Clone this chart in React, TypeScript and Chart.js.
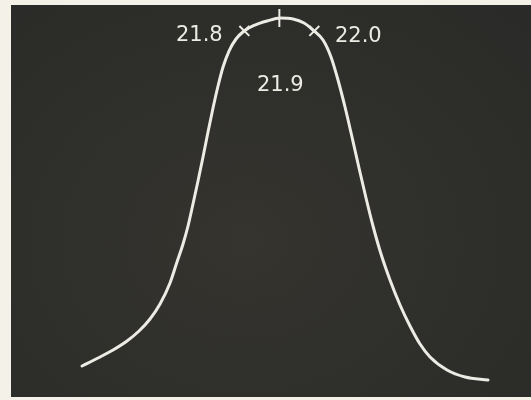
import React, { useEffect, useRef } from "react";
import { Chart, registerables } from "chart.js";

Chart.register(...registerables);

// Sweep frequency and relative response amplitude
const freq = [
  21.3362, 21.3819, 21.4248, 21.4648, 21.4991, 21.5305, 21.5591, 21.5876, 21.6076, 21.6248,
  21.6391, 21.6533, 21.6676, 21.6819, 21.6962, 21.7105, 21.7248, 21.7391, 21.7562, 21.7762,
  21.7991, 21.8305, 21.8648, 21.9019, 21.9391, 21.9705, 21.9962, 22.0248, 22.0476, 22.0676,
  22.0876, 22.1076, 22.1276, 22.1476, 22.1676, 22.1905, 22.2162, 22.2448, 22.2733, 22.3019,
  22.3305, 22.3791, 22.4305, 22.4962,
];
const amplitude = [
  0.0818, 0.1029, 0.124, 0.1478, 0.1741, 0.2058, 0.2454, 0.3008, 0.3562, 0.4037,
  0.4512, 0.5092, 0.5699, 0.6332, 0.6992, 0.7625, 0.8206, 0.8707, 0.9129, 0.9446,
  0.9657, 0.9815, 0.9921, 1.0, 0.9974, 0.9868, 0.9683, 0.942, 0.8971, 0.8364,
  0.7652, 0.686, 0.6042, 0.5251, 0.4512, 0.3773, 0.3087, 0.2427, 0.1873, 0.1398,
  0.1055, 0.0712, 0.0528, 0.0449,
];

// Marker frequencies and their labels
const markerFreq = [21.8, 21.9, 22.0];
const markerAmp = [0.966, 1.0, 0.966];
const markerLabels = ["21.8", "21.9", "22.0"];

const X_MIN = 21.1333;
const X_MAX = 22.619;
const Y_MIN = 0;
const Y_MAX = 1.0343;

const TRACE = "#ecebe4";

export default function App() {
  const canvasRef = useRef<HTMLCanvasElement | null>(null);

  useEffect(() => {
    if (!canvasRef.current) return;

    const labelOffsets = [
      { dx: -45, dy: 5 },
      { dx: 1, dy: 68 },
      { dx: 44, dy: 6 },
    ];

    const labelPlugin = {
      id: "markerLabels",
      afterDatasetsDraw(chart: any) {
        const ctx = chart.ctx;
        const xs = chart.scales.x;
        const ys = chart.scales.y;
        ctx.save();
        ctx.fillStyle = TRACE;
        ctx.font = "21px 'DejaVu Sans'";
        ctx.textAlign = "center";
        ctx.textBaseline = "middle";
        markerFreq.forEach((f, i) => {
          const px = xs.getPixelForValue(f);
          const py = ys.getPixelForValue(markerAmp[i]);
          ctx.fillText(markerLabels[i], px + labelOffsets[i].dx, py + labelOffsets[i].dy);
        });
        ctx.restore();
      },
    };

    const chart = new Chart(canvasRef.current, {
      type: "scatter",
      data: {
        datasets: [
          {
            data: freq.map((f, i) => ({ x: f, y: amplitude[i] })),
            showLine: true,
            borderColor: TRACE,
            borderWidth: 3,
            borderCapStyle: "round",
            pointRadius: 0,
            cubicInterpolationMode: "monotone",
            fill: false,
          },
          {
            data: [
              { x: markerFreq[0], y: markerAmp[0] },
              { x: markerFreq[2], y: markerAmp[2] },
            ],
            showLine: false,
            pointStyle: "crossRot",
            pointRadius: 7,
            borderColor: TRACE,
            borderWidth: 2,
            clip: false,
          },
          {
            data: [{ x: markerFreq[1], y: markerAmp[1] }],
            showLine: false,
            pointStyle: "line",
            rotation: 90,
            pointRadius: 9,
            borderColor: TRACE,
            borderWidth: 2,
            clip: false,
          },
        ],
      },
      options: {
        animation: false,
        responsive: true,
        maintainAspectRatio: false,
        layout: { padding: 0, autoPadding: false },
        plugins: {
          legend: { display: false },
          tooltip: { enabled: false },
        },
        scales: {
          x: { type: "linear", min: X_MIN, max: X_MAX, display: false },
          y: { type: "linear", min: Y_MIN, max: Y_MAX, display: false },
        },
      },
      plugins: [labelPlugin],
    } as any);

    return () => chart.destroy();
  }, []);

  return (
    <div
      style={{
        position: "fixed",
        inset: 0,
        background: "#f4f2e8",
      }}
    >
      <div
        style={{
          position: "absolute",
          left: 11,
          top: 5,
          width: 520,
          height: 392,
          background: "radial-gradient(ellipse at 45% 60%, #35342f 0%, #2e2e2b 55%, #2a2a28 100%)",
        }}
      >
        <canvas ref={canvasRef} />
      </div>
    </div>
  );
}
